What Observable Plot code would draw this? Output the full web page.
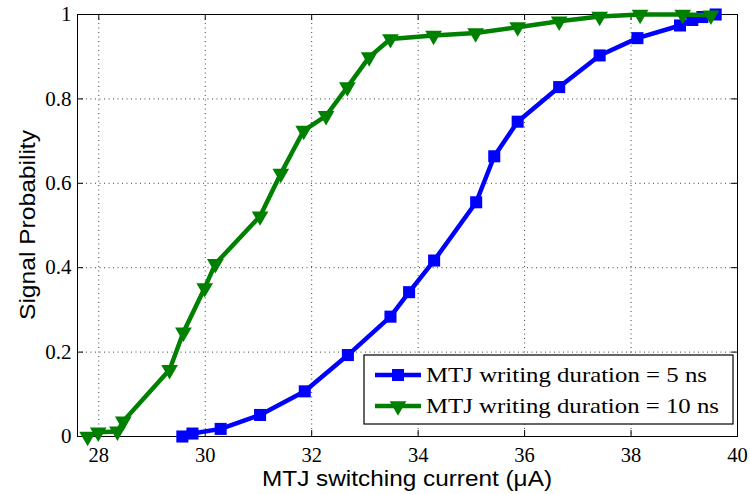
<!DOCTYPE html>
<html>
<head>
<meta charset="utf-8">
<script src="https://cdn.jsdelivr.net/npm/d3@7"></script>
<script src="https://cdn.jsdelivr.net/npm/@observablehq/plot@0.6"></script>
<style>
  html, body { margin: 0; padding: 0; background: #fff; }
</style>
</head>
<body>
<div id="chart"></div>
<script>
// Series: MTJ writing duration = 5 ns (blue squares)
const current5 = [29.57, 29.76, 30.29, 31.03, 31.87, 32.68, 33.48, 33.83, 34.30, 35.09, 35.43, 35.87, 36.65, 37.41, 38.12, 38.92, 39.15, 39.34, 39.59];
const prob5    = [0.000, 0.007, 0.018, 0.051, 0.107, 0.193, 0.284, 0.342, 0.417, 0.555, 0.664, 0.746, 0.828, 0.903, 0.944, 0.974, 0.987, 0.994, 1.000];

// Series: MTJ writing duration = 10 ns (green down-triangles)
const current10 = [27.79, 27.99, 28.35, 28.46, 29.33, 29.59, 29.99, 30.19, 31.03, 31.42, 31.85, 32.27, 32.67, 33.08, 33.48, 34.29, 35.08, 35.87, 36.65, 37.41, 38.17, 38.97, 39.50];
const prob10    = [0.000, 0.010, 0.012, 0.036, 0.158, 0.247, 0.352, 0.409, 0.522, 0.623, 0.725, 0.760, 0.828, 0.899, 0.942, 0.950, 0.956, 0.970, 0.984, 0.995, 1.000, 1.000, 0.998];

const seriesNames = ["MTJ writing duration = 5 ns", "MTJ writing duration = 10 ns"];
const xTicks = [28, 30, 32, 34, 36, 38, 40];
const yTicks = [0, 0.2, 0.4, 0.6, 0.8, 1];
const yTickLabels = ["0", "0.2", "0.4", "0.6", "0.8", "1"];
const xLabel = "MTJ switching current (\u03BCA)";
const yLabel = "Signal Probability";

const d5 = current5.map((x, i) => ({x, y: prob5[i]}));
const d10 = current10.map((x, i) => ({x, y: prob10[i]}));

const W = 750, H = 494;
const mL = 77, mR = 13, mT = 14, mB = 58;
const plotH = H - mT - mB;
const plotW = W - mL - mR;
const tickLen = 6;
const BLUE = "#0000ff", GREEN = "#008000";
const SERIF = "'Liberation Serif', 'Times New Roman', serif";
const SANS = "'Liberation Sans', Arial, sans-serif";

const chart = Plot.plot({
  width: W, height: H,
  marginLeft: mL, marginRight: mR, marginTop: mT, marginBottom: mB,
  x: {domain: [27.6, 40]},
  y: {domain: [0, 1]},
  style: {background: "#fff", fontFamily: SERIF, fontSize: "20px", color: "#000"},
  marks: [
    Plot.gridX(xTicks, {stroke: "#000", strokeOpacity: 0.75, strokeDasharray: "1,3.5", strokeWidth: 1}),
    Plot.gridY(yTicks, {stroke: "#000", strokeOpacity: 0.75, strokeDasharray: "1,3.5", strokeWidth: 1}),
    // inward ticks on all four sides
    Plot.tickX(xTicks, {x: d => d, insetTop: plotH - tickLen, stroke: "#000"}),
    Plot.tickX(xTicks, {x: d => d, insetBottom: plotH - tickLen, stroke: "#000"}),
    Plot.tickY(yTicks, {y: d => d, insetRight: plotW - tickLen, stroke: "#000"}),
    Plot.tickY(yTicks, {y: d => d, insetLeft: plotW - tickLen, stroke: "#000"}),
    Plot.axisX(xTicks, {tickSize: 0, tickPadding: 11, label: null, fontSize: 20.5, tickFormat: d => String(d)}),
    Plot.axisY(yTicks, {tickSize: 0, tickPadding: 6, label: null, fontSize: 21, tickFormat: (d, i) => yTickLabels[i]}),
    Plot.frame({stroke: "#000", strokeWidth: 1}),
    // blue series
    Plot.line(d5, {x: "x", y: "y", stroke: BLUE, strokeWidth: 4.5}),
    Plot.dot(d5, {x: "x", y: "y", symbol: "square", r: 6.8, fill: BLUE, stroke: "none"}),
    // green series
    Plot.line(d10, {x: "x", y: "y", stroke: GREEN, strokeWidth: 4.5}),
    Plot.dot(d10, {x: "x", y: "y", symbol: "triangle", rotate: 180, r: 6.2, fill: GREEN, stroke: "none"})
  ]
});

document.getElementById("chart").appendChild(chart);
const svg = d3.select(chart);

// Axis titles
svg.append("text")
  .attr("x", mL + plotW / 2).attr("y", H - mB + 50)
  .attr("text-anchor", "middle")
  .attr("font-family", SANS).attr("font-size", 21.5).attr("fill", "#000")
  .attr("textLength", 290).attr("lengthAdjust", "spacingAndGlyphs")
  .text(xLabel);
svg.append("text")
  .attr("transform", `translate(35,${mT + plotH / 2}) rotate(-90)`)
  .attr("text-anchor", "middle")
  .attr("font-family", SANS).attr("font-size", 22).attr("fill", "#000")
  .attr("textLength", 190).attr("lengthAdjust", "spacingAndGlyphs")
  .text(yLabel);

// Legend (south-east, inside the axes)
const lgW = 369, lgH = 69;
const lgX = W - mR - 4 - lgW, lgY = H - mB - 12 - lgH;
const lg = svg.append("g").attr("transform", `translate(${lgX},${lgY})`);
lg.append("rect").attr("width", lgW).attr("height", lgH).attr("fill", "#fff").attr("stroke", "#000").attr("stroke-width", 1.2);
const rows = [
  {name: seriesNames[0], color: BLUE, sym: d3.symbolSquare, size: 6.8 * 6.8 * Math.PI, rot: 0, len: 281},
  {name: seriesNames[1], color: GREEN, sym: d3.symbolTriangle, size: 6.2 * 6.2 * Math.PI, rot: 180, len: 293}
];
rows.forEach((r, i) => {
  const cy = 20 + i * 31;
  lg.append("line").attr("x1", 11).attr("x2", 57).attr("y1", cy).attr("y2", cy)
    .attr("stroke", r.color).attr("stroke-width", 4.5);
  lg.append("path").attr("d", d3.symbol(r.sym, r.size)())
    .attr("transform", `translate(34,${cy}) rotate(${r.rot})`).attr("fill", r.color);
  lg.append("text").attr("x", 62).attr("y", cy + 7)
    .attr("text-anchor", "start")
    .attr("font-family", SERIF).attr("font-size", 21)
    .attr("textLength", r.len).attr("lengthAdjust", "spacingAndGlyphs")
    .attr("fill", "#000").text(r.name);
});
</script>
</body>
</html>
